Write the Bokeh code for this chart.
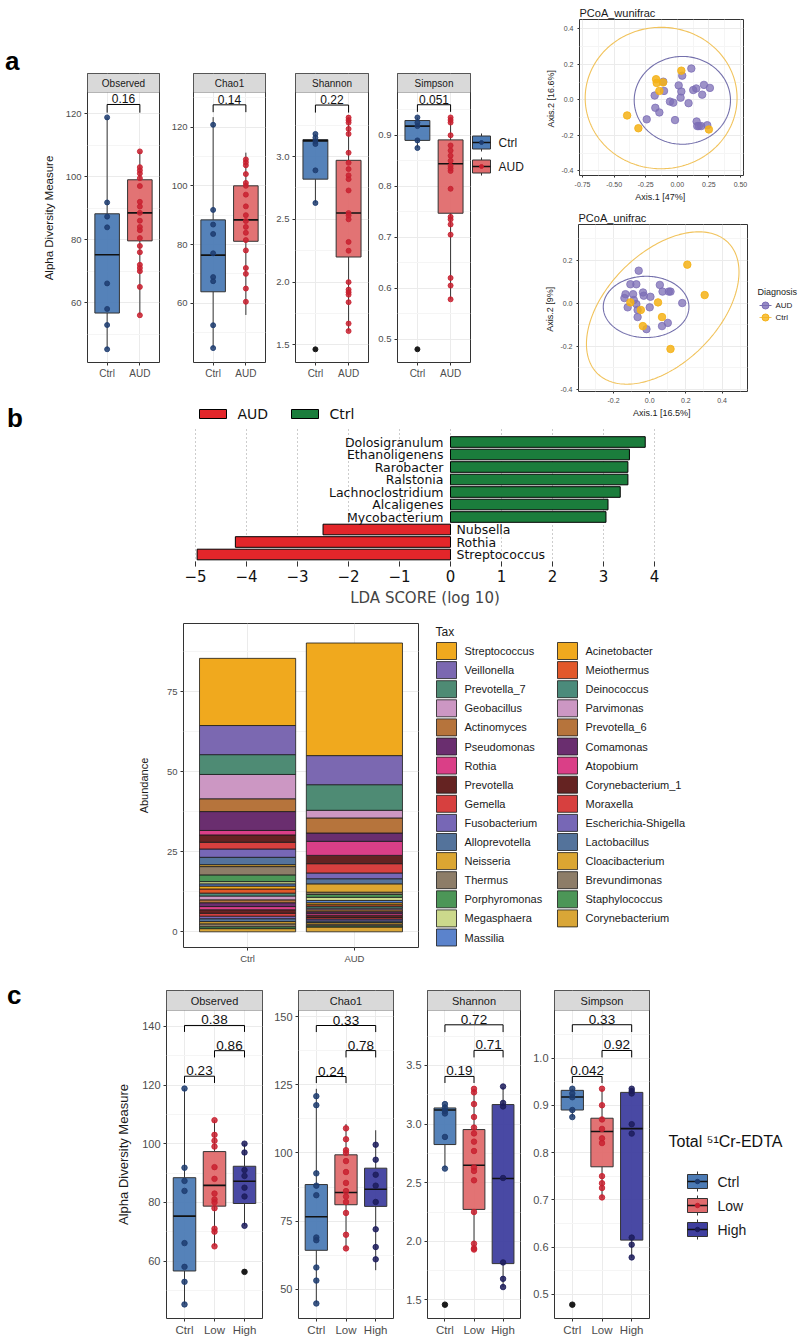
import numpy as np
from bokeh.plotting import figure
from bokeh.layouts import row, column
from bokeh.models import Range1d, FixedTicker, NumeralTickFormatter, BoxAnnotation, Label, ColumnDataSource, Div
from bokeh.core.properties import value
from bokeh.embed import file_html
from bokeh.resources import INLINE

FONT = "Liberation Sans"
MPL = "DejaVu Sans"

# ---------------- Panel a: alpha diversity, Ctrl vs AUD ----------------
A_GROUPS = ["Ctrl", "AUD"]
A_FILL = ["#4C7BB5", "#E06B6D"]
A_PTCOL = ["#1D3C70", "#C8202F"]

A_OBS_PTS = [[118.8, 91.8, 87.3, 83.9, 66.1, 58.0, 52.9, 45.2],
             [108, 103, 102, 101, 99.5, 97, 92, 90.5, 88.5, 86, 84, 83, 80.5, 78, 76, 72, 71, 70, 65, 56]]
A_OBS_Q1 = [56.7, 79.6]
A_OBS_MED = [75.2, 88.5]
A_OBS_Q3 = [88.2, 99.0]
A_OBS_LO = [45.2, 56.0]
A_OBS_HI = [118.8, 108.0]
A_OBS_OUT = [[], []]

A_CHAO_PTS = [[120.8, 91.8, 86.8, 83.6, 77, 68.9, 67.5, 52.5, 44.7],
              [109, 108, 107, 104, 101, 100, 97, 93, 90, 88, 86, 84, 81.5, 78, 72, 70, 65, 60.5]]
A_CHAO_Q1 = [63.9, 81.1]
A_CHAO_MED = [76.4, 88.4]
A_CHAO_Q3 = [88.4, 100.0]
A_CHAO_LO = [44.7, 56.0]
A_CHAO_HI = [123.4, 111.3]
A_CHAO_OUT = [[], []]

A_SHAN_PTS = [[3.18, 3.15, 3.12, 3.10, 2.89, 2.63],
              [3.31, 3.29, 3.27, 3.22, 3.18, 3.03, 2.95, 2.90, 2.85, 2.82, 2.73, 2.55, 2.53, 2.50,
               2.32, 2.25, 2.00, 1.94, 1.92, 1.90, 1.84, 1.67, 1.61]]
A_SHAN_Q1 = [2.82, 2.20]
A_SHAN_MED = [3.125, 2.55]
A_SHAN_Q3 = [3.135, 2.97]
A_SHAN_LO = [2.63, 1.61]
A_SHAN_HI = [3.18, 3.31]
A_SHAN_OUT = [[1.465], []]

A_SIMP_PTS = [[0.935, 0.925, 0.918, 0.89, 0.875],
              [0.935, 0.93, 0.925, 0.90, 0.88, 0.87, 0.86, 0.85, 0.84, 0.835, 0.83, 0.795, 0.74,
               0.735, 0.725, 0.705, 0.62, 0.605, 0.578]]
A_SIMP_Q1 = [0.890, 0.747]
A_SIMP_MED = [0.918, 0.844]
A_SIMP_Q3 = [0.929, 0.891]
A_SIMP_LO = [0.875, 0.578]
A_SIMP_HI = [0.935, 0.935]
A_SIMP_OUT = [[0.48], []]

A_PV_X0 = [1]
A_PV_X1 = [2]
A_OBS_PV = ["0.16"]; A_OBS_BR = [122.9]; A_OBS_TIP = [120.3]
A_CHAO_PV = ["0.14"]; A_CHAO_BR = [127.6]; A_CHAO_TIP = [125.1]
A_SHAN_PV = ["0.22"]; A_SHAN_BR = [3.41]; A_SHAN_TIP = [3.35]
A_SIMP_PV = ["0.051"]; A_SIMP_BR = [0.960]; A_SIMP_TIP = [0.946]

A_OBS_YLIM = [41.0, 126.7]; A_OBS_TICKS = [60, 80, 100, 120]; A_OBS_MINOR = [50, 70, 90, 110]
A_CHAO_YLIM = [39.8, 131.8]; A_CHAO_TICKS = [60, 80, 100, 120]; A_CHAO_MINOR = [50, 70, 90, 110, 130]
A_SHAN_YLIM = [1.36, 3.51]; A_SHAN_TICKS = [1.5, 2.0, 2.5, 3.0]; A_SHAN_MINOR = [1.75, 2.25, 2.75, 3.25]
A_SIMP_YLIM = [0.454, 0.984]; A_SIMP_TICKS = [0.5, 0.6, 0.7, 0.8, 0.9]; A_SIMP_MINOR = [0.55, 0.65, 0.75, 0.85, 0.95]

# ---------------- PCoA ----------------
WU_AUD_X = [0.111, 0.039, -0.111, 0.011, 0.032, 0.126, 0.150, 0.211, 0.258, 0.197, -0.179, -0.105, 0.026,
            -0.058, -0.032, 0.089, -0.174, -0.142, -0.242, -0.018, 0.153, 0.158, 0.189, 0.237, 0.171]
WU_AUD_Y = [0.176, 0.136, 0.102, 0.081, 0.047, 0.055, 0.064, 0.084, 0.067, 0.029, 0.024, 0.050, 0.012,
            -0.010, -0.016, -0.019, -0.045, -0.071, -0.110, -0.114, -0.122, -0.148, -0.148, -0.143, -0.148]
WU_CTRL_X = [0.032, -0.168, -0.163, -0.113, -0.142, -0.397, -0.308, 0.250]
WU_CTRL_Y = [0.164, 0.116, 0.095, 0.098, 0.050, -0.088, -0.160, -0.167]
WU_ELL_CX = [-0.128, 0.040]
WU_ELL_CY = [0.010, -0.003]
WU_ELL_A = [0.601, 0.381]
WU_ELL_B = [0.398, 0.247]
WU_ELL_ANG = [0.0, 0.0]

UF_AUD_X = [-0.061, -0.107, -0.074, 0.056, -0.134, -0.092, -0.037, -0.033, 0.004, 0.071, 0.115, 0.106,
            -0.140, -0.122, -0.074, -0.067, -0.067, 0.0, 0.18, -0.018, 0.068, 0.1, -0.088]
UF_AUD_Y = [0.151, 0.088, 0.088, 0.085, 0.042, 0.042, 0.05, 0.035, 0.030, 0.054, 0.054, 0.054,
            0.024, -0.019, -0.004, -0.031, -0.064, -0.019, 0.001, -0.12, -0.106, -0.091, 0.015]
UF_CTRL_X = [0.208, 0.304, -0.107, -0.049, 0.046, 0.068, -0.038, 0.115]
UF_CTRL_Y = [0.179, 0.038, 0.004, -0.031, 0.004, -0.064, -0.106, -0.212]
UF_ELL_CX = [0.072, -0.020]
UF_ELL_CY = [-0.022, -0.017]
UF_ELL_A = [0.476, 0.237]
UF_ELL_B = [0.276, 0.142]
UF_ELL_ANG = [34.6, 0.0]

PC_COL = ["#F5B216", "#7C6DB6"]      # Ctrl, AUD
PC_ELL_COL = ["#F1C35C", "#7470AC"]  # Ctrl, AUD
DIAG_LABELS = ["AUD", "Ctrl"]

# ---------------- Panel b: LEfSe ----------------
LDA_TAXA = ["Dolosigranulum", "Ethanoligenens", "Rarobacter", "Ralstonia", "Lachnoclostridium",
            "Alcaligenes", "Mycobacterium", "Nubsella", "Rothia", "Streptococcus"]
LDA_SCORE = [3.82, 3.51, 3.48, 3.48, 3.33, 3.09, 3.05, -2.50, -4.22, -4.97]
LDA_CLASS = ["Ctrl"] * 7 + ["AUD"] * 3
LDA_LEG = ["AUD", "Ctrl"]
LDA_COLORS = {"AUD": "#E3262A", "Ctrl": "#1B7D3C"}
LDA_TICKS = [-5, -4, -3, -2, -1, 0, 1, 2, 3, 4]

# ---------------- Stacked abundance ----------------
TAX = ["Streptococcus", "Veillonella", "Prevotella_7", "Geobacillus", "Actinomyces", "Pseudomonas",
       "Rothia", "Prevotella", "Gemella", "Fusobacterium", "Alloprevotella", "Neisseria", "Thermus",
       "Porphyromonas", "Megasphaera", "Massilia", "Acinetobacter", "Meiothermus", "Deinococcus",
       "Parvimonas", "Prevotella_6", "Comamonas", "Atopobium", "Corynebacterium_1", "Moraxella",
       "Escherichia-Shigella", "Lactobacillus", "Cloacibacterium", "Brevundimonas", "Staphylococcus",
       "Corynebacterium"]
TAX_COLORS = ["#F0A91E", "#7B68B1", "#4E8B74", "#CC97C3", "#B6743C", "#6A2E6F", "#DA3F87", "#652322",
              "#D7403F", "#7767B6", "#54739B", "#DBA632", "#8D7D68", "#4C9657", "#CCD98C", "#5B83CC",
              "#F0A91E", "#E2582A", "#4B8B7B", "#CC97C3", "#B6743C", "#6A2E6F", "#DA3F87", "#652322",
              "#D7403F", "#7767B6", "#54739B", "#DBA632", "#8D7D68", "#4C9657", "#D9A637"]
AB_CTRL = [21.0, 9.1, 6.2, 7.6, 4.0, 5.9, 1.4, 2.3, 2.1, 2.6, 2.3, 0.6, 2.6, 2.1, 0.7, 0.7,
           0.9, 1.3, 0.9, 1.2, 0.9, 1.2, 1.0, 1.1, 0.9, 0.8, 0.9, 0.7, 0.9, 0.6, 1.0]
AB_AUD = [35.2, 9.1, 8.0, 2.4, 4.7, 2.6, 4.4, 2.6, 2.9, 1.8, 1.6, 2.6, 0.7, 0.9, 1.0, 0.7,
          0.6, 0.5, 0.6, 0.5, 0.6, 0.5, 0.6, 0.7, 0.5, 0.6, 0.5, 0.5, 0.5, 0.4, 1.5]
AB_GROUPS = ["Ctrl", "AUD"]

# ---------------- Panel c: Ctrl / Low / High ----------------
C_GROUPS = ["Ctrl", "Low", "High"]
C_FILL = ["#4C7BB5", "#E06B6D", "#3F3F9F"]
C_PTCOL = ["#1D3C70", "#C8202F", "#1C1C5C"]

C_OBS_PTS = [[118.8, 91.8, 87.3, 83.9, 66.1, 58.0, 52.9, 45.2],
             [108, 103, 101, 99, 92, 88, 83, 81, 80, 78, 71, 70, 65],
             [100, 97, 91, 89, 85, 82, 72]]
C_OBS_Q1 = [56.6, 78.7, 79.6]; C_OBS_MED = [75.3, 85.8, 87.2]; C_OBS_Q3 = [88.4, 97.3, 92.3]
C_OBS_LO = [45.2, 65.0, 72.0]; C_OBS_HI = [118.8, 108.0, 100.0]
C_OBS_OUT = [[], [], [56.3]]

C_CHAO_PTS = [[120.8, 117.5, 92.5, 88, 84.5, 69, 68, 58, 53.2, 44.8],
              [109, 105, 101, 100, 97, 93, 89, 86, 84, 82, 78, 70, 65],
              [103, 97.5, 92, 88, 82, 72, 65.5, 61]]
C_CHAO_Q1 = [64.3, 81.0, 80.4]; C_CHAO_MED = [76.6, 85.5, 86.7]; C_CHAO_Q3 = [88.4, 99.3, 94.4]
C_CHAO_LO = [44.8, 64.7, 57.0]; C_CHAO_HI = [123.5, 110.6, 108.3]
C_CHAO_OUT = [[], [], []]

C_SHAN_PTS = [[3.17, 3.14, 3.11, 3.09, 2.89, 2.62],
              [3.30, 3.27, 3.17, 3.06, 2.97, 2.92, 2.85, 2.77, 2.63, 2.60, 2.52, 2.25, 1.98, 1.94, 1.93],
              [3.32, 3.18, 3.15, 2.54, 1.82, 1.68, 1.61]]
C_SHAN_Q1 = [2.825, 2.272, 1.81]; C_SHAN_MED = [3.12, 2.649, 2.536]; C_SHAN_Q3 = [3.137, 2.953, 3.166]
C_SHAN_LO = [2.62, 1.93, 1.61]; C_SHAN_HI = [3.17, 3.30, 3.316]
C_SHAN_OUT = [[1.46], [], []]

C_SIMP_PTS = [[0.935, 0.925, 0.917, 0.89, 0.875],
              [0.935, 0.90, 0.87, 0.85, 0.83, 0.82, 0.75, 0.735, 0.725, 0.705],
              [0.935, 0.93, 0.925, 0.86, 0.84, 0.62, 0.605, 0.578]]
C_SIMP_Q1 = [0.890, 0.7698, 0.6146]; C_SIMP_MED = [0.9176, 0.8445, 0.8506]; C_SIMP_Q3 = [0.9316, 0.8726, 0.9273]
C_SIMP_LO = [0.875, 0.7034, 0.577]; C_SIMP_HI = [0.935, 0.935, 0.935]
C_SIMP_OUT = [[0.478], [], []]

C_PV_X0 = [1, 2, 1]
C_PV_X1 = [3, 3, 2]
C_OBS_PV = ["0.38", "0.86", "0.23"]; C_OBS_BR = [140.3, 131.7, 123.0]; C_OBS_TIP = [138.1, 129.4, 120.7]
C_CHAO_PV = ["0.33", "0.78", "0.24"]; C_CHAO_BR = [146.7, 137.5, 128.0]; C_CHAO_TIP = [144.3, 135.0, 125.6]
C_SHAN_PV = ["0.72", "0.71", "0.19"]; C_SHAN_BR = [3.846, 3.628, 3.406]; C_SHAN_TIP = [3.784, 3.568, 3.35]
C_SIMP_PV = ["0.33", "0.92", "0.042"]; C_SIMP_BR = [1.0705, 1.016, 0.961]; C_SIMP_TIP = [1.055, 1.0013, 0.947]

C_OBS_YLIM = [40.4, 145.4]; C_OBS_TICKS = [60, 80, 100, 120, 140]; C_OBS_MINOR = [50, 70, 90, 110, 130]
C_CHAO_YLIM = [39.3, 152.2]; C_CHAO_TICKS = [50, 75, 100, 125, 150]; C_CHAO_MINOR = [62.5, 87.5, 112.5, 137.5]
C_SHAN_YLIM = [1.342, 3.968]; C_SHAN_TICKS = [1.5, 2.0, 2.5, 3.0, 3.5]; C_SHAN_MINOR = [1.75, 2.25, 2.75, 3.25, 3.75]
C_SIMP_YLIM = [0.4487, 1.1006]; C_SIMP_TICKS = [0.5, 0.6, 0.7, 0.8, 0.9, 1.0]; C_SIMP_MINOR = [0.55, 0.65, 0.75, 0.85, 0.95, 1.05]

GRID = "#ebebeb"
GRID_MINOR = "#f5f5f5"
BORDER = "#333333"
TICKCOL = "#4d4d4d"


def style_axis(ax, fs, tick_out=3):
    ax.axis_line_color = None
    ax.major_tick_in = 0
    ax.major_tick_out = tick_out
    ax.major_tick_line_color = BORDER
    ax.minor_tick_line_color = None
    ax.major_label_text_font = FONT
    ax.major_label_text_font_size = fs
    ax.major_label_text_color = TICKCOL
    ax.major_label_standoff = 2
    ax.axis_label_text_font = FONT
    ax.axis_label_text_font_style = "normal"
    ax.axis_label_text_color = "#1a1a1a"


def facet(frame_w, panel_h, strip_h, left, right, top, bottom, groups, ylim, ticks, minor, fmt,
          strip, q1, med, q3, lo, hi, pts, outl, fills, pcols, brx0, brx1, bry, brtip, brlab,
          tick_fs, strip_fs, pv_fs, xlab_fs, ylabel=None, ylabel_fs="12px", pt_size=5.0):
    n = len(groups)
    span = ylim[1] - ylim[0]
    strip_data = span * strip_h / panel_h
    p = figure(frame_width=frame_w, frame_height=panel_h + strip_h,
               x_range=Range1d(0.4, n + 0.6), y_range=Range1d(ylim[0], ylim[1] + strip_data),
               min_border_left=left, min_border_right=right, min_border_top=top, min_border_bottom=bottom,
               output_backend="svg", toolbar_location=None)
    p.outline_line_color = BORDER
    p.outline_line_width = 1
    p.xaxis.ticker = FixedTicker(ticks=list(range(1, n + 1)))
    p.xaxis.major_label_overrides = {i + 1: g for i, g in enumerate(groups)}
    p.yaxis.ticker = FixedTicker(ticks=ticks, minor_ticks=minor)
    p.yaxis.formatter = NumeralTickFormatter(format=fmt)
    style_axis(p.xaxis[0], xlab_fs)
    style_axis(p.yaxis[0], tick_fs)
    p.xgrid.grid_line_color = GRID
    p.ygrid.grid_line_color = GRID
    p.ygrid.minor_grid_line_color = GRID_MINOR
    if ylabel:
        p.yaxis.axis_label = ylabel
        p.yaxis.axis_label_text_font_size = ylabel_fs
        p.yaxis.axis_label_standoff = 8
    xs = np.arange(1, n + 1)
    bw = 0.75
    p.segment(x0=xs, y0=lo, x1=xs, y1=q1, line_color=BORDER, line_width=1)
    p.segment(x0=xs, y0=q3, x1=xs, y1=hi, line_color=BORDER, line_width=1)
    p.quad(left=xs - bw / 2, right=xs + bw / 2, bottom=q1, top=q3, fill_color=fills,
           fill_alpha=0.95, line_color=BORDER, line_width=1)
    p.segment(x0=xs - bw / 2, y0=med, x1=xs + bw / 2, y1=med, line_color="#111111", line_width=1.6)
    for i in range(n):
        if pts[i]:
            p.scatter(x=[i + 1] * len(pts[i]), y=pts[i], size=pt_size, fill_color=pcols[i],
                      line_color=pcols[i], fill_alpha=0.85, line_alpha=0.85)
        if outl[i]:
            p.scatter(x=[i + 1] * len(outl[i]), y=outl[i], size=pt_size, fill_color="#1a1a1a",
                      line_color="#1a1a1a")
    p.segment(x0=brx0, y0=bry, x1=brx1, y1=bry, line_color="black", line_width=1)
    p.segment(x0=brx0, y0=bry, x1=brx0, y1=brtip, line_color="black", line_width=1)
    p.segment(x0=brx1, y0=bry, x1=brx1, y1=brtip, line_color="black", line_width=1)
    p.text(x=[(a + b) / 2 for a, b in zip(brx0, brx1)], y=bry, text=brlab, text_align="center",
           text_baseline="bottom", y_offset=-1, text_font=value(FONT), text_font_size=pv_fs,
           text_color="#111111")
    p.add_layout(BoxAnnotation(bottom=ylim[1], fill_color="#d9d9d9", fill_alpha=1.0,
                               line_color=BORDER, line_width=1))
    p.add_layout(Label(x=(n + 1) / 2, y=ylim[1] + strip_data / 2, text=strip, text_align="center",
                       text_baseline="middle", text_font=FONT, text_font_size=strip_fs,
                       text_color="#1a1a1a"))
    return p


def blank(w, h, top=0, bottom=0):
    # plot whose data units are pixels measured from its own top-left corner;
    # its top/bottom borders equal those of its row neighbours so the frames line up
    fh = h - top - bottom
    p = figure(frame_width=w, frame_height=fh, x_range=Range1d(0, w), y_range=Range1d(top + fh, top),
               x_axis_type=None, y_axis_type=None, output_backend="svg", toolbar_location=None,
               min_border_left=0, min_border_right=0, min_border_top=top, min_border_bottom=bottom)
    p.outline_line_color = None
    return p


def letter(ch, w, h, pad_top, pad_left):
    return Div(text=(f'<div style="padding-top:{pad_top}px;padding-left:{pad_left}px;'
                     f'font-family:\'Liberation Sans\',Arial,sans-serif;font-weight:bold;'
                     f'font-size:26px;line-height:26px;color:#000;">{ch}</div>'),
               width=w, height=h, margin=0)


def box_key(p, xc, yc, w, hbox, hwh, fill, pcol, size):
    p.segment(x0=[xc, xc], y0=[yc - hwh, yc + hbox / 2], x1=[xc, xc], y1=[yc - hbox / 2, yc + hwh],
              line_color=BORDER, line_width=1)
    p.quad(left=[xc - w / 2], right=[xc + w / 2], top=[yc - hbox / 2], bottom=[yc + hbox / 2],
           fill_color=fill, line_color=BORDER, line_width=1)
    p.segment(x0=[xc - w / 2], y0=[yc], x1=[xc + w / 2], y1=[yc], line_color="#111111", line_width=1.4)
    p.scatter(x=[xc], y=[yc], size=size, fill_color=pcol, line_color=pcol)


# ================= Row A =================
A_TOP, A_BOT, A_PANEL, A_STRIP = 73, 23, 270, 19
div_a = letter("a", 38, A_TOP + A_PANEL + A_STRIP + A_BOT, 48, 5)

A_KW = dict(panel_h=A_PANEL, strip_h=A_STRIP, top=A_TOP, bottom=A_BOT, groups=A_GROUPS, fills=A_FILL,
            pcols=A_PTCOL, brx0=A_PV_X0, brx1=A_PV_X1, tick_fs="9.5px", strip_fs="10px", pv_fs="12px",
            xlab_fs="10px")
obs_a = facet(72, left=49, right=4, ylim=A_OBS_YLIM, ticks=A_OBS_TICKS, minor=A_OBS_MINOR, fmt="0",
              strip="Observed", q1=A_OBS_Q1, med=A_OBS_MED, q3=A_OBS_Q3, lo=A_OBS_LO, hi=A_OBS_HI,
              pts=A_OBS_PTS, outl=A_OBS_OUT, bry=A_OBS_BR, brtip=A_OBS_TIP, brlab=A_OBS_PV,
              ylabel="Alpha Diversity Measure", ylabel_fs="11.5px", **A_KW)
chao_a = facet(72, left=30, right=2, ylim=A_CHAO_YLIM, ticks=A_CHAO_TICKS, minor=A_CHAO_MINOR, fmt="0",
               strip="Chao1", q1=A_CHAO_Q1, med=A_CHAO_MED, q3=A_CHAO_Q3, lo=A_CHAO_LO, hi=A_CHAO_HI,
               pts=A_CHAO_PTS, outl=A_CHAO_OUT, bry=A_CHAO_BR, brtip=A_CHAO_TIP, brlab=A_CHAO_PV, **A_KW)
shan_a = facet(73, left=28, right=2, ylim=A_SHAN_YLIM, ticks=A_SHAN_TICKS, minor=A_SHAN_MINOR, fmt="0.0",
               strip="Shannon", q1=A_SHAN_Q1, med=A_SHAN_MED, q3=A_SHAN_Q3, lo=A_SHAN_LO, hi=A_SHAN_HI,
               pts=A_SHAN_PTS, outl=A_SHAN_OUT, bry=A_SHAN_BR, brtip=A_SHAN_TIP, brlab=A_SHAN_PV, **A_KW)
simp_a = facet(73, left=27, right=1, ylim=A_SIMP_YLIM, ticks=A_SIMP_TICKS, minor=A_SIMP_MINOR, fmt="0.0",
               strip="Simpson", q1=A_SIMP_Q1, med=A_SIMP_MED, q3=A_SIMP_Q3, lo=A_SIMP_LO, hi=A_SIMP_HI,
               pts=A_SIMP_PTS, outl=A_SIMP_OUT, bry=A_SIMP_BR, brtip=A_SIMP_TIP, brlab=A_SIMP_PV, **A_KW)

leg_a = blank(59, A_TOP + A_PANEL + A_STRIP + A_BOT, A_TOP, A_BOT)
for i, g in enumerate(A_GROUPS):
    box_key(leg_a, 10, 142 + 24 * i, 18, 13, 9, A_FILL[i], A_PTCOL[i], 4)
leg_a.text(x=[27] * len(A_GROUPS), y=[142 + 24 * i for i in range(len(A_GROUPS))], text=A_GROUPS,
           text_font=value(FONT), text_font_size="12px", text_baseline="middle", text_color="#1a1a1a")

# LDA legend strip with panel label b
div_b = letter("b", 38, 43, 20, 7)
leg_b = blank(492, 43)
leg_b.quad(left=[161 + 92 * i for i in range(len(LDA_LEG))], right=[188 + 92 * i for i in range(len(LDA_LEG))],
           top=[24] * len(LDA_LEG), bottom=[33] * len(LDA_LEG),
           fill_color=[LDA_COLORS[c] for c in LDA_LEG], line_color="black", line_width=1)
leg_b.text(x=[199 + 92 * i for i in range(len(LDA_LEG))], y=[28.5] * len(LDA_LEG), text=LDA_LEG,
           text_font=value(MPL), text_font_size="14px", text_baseline="middle", text_color="#111111")


def pcoa(frame_w, frame_h, left, right, top, bottom, xr, yr, xt, xmin, xfmt, yt, ymin, title, xlab, ylab,
         ax, ay, cx, cy, ex, ey, ea, eb, eang):
    p = figure(frame_width=frame_w, frame_height=frame_h, x_range=Range1d(*xr), y_range=Range1d(*yr),
               min_border_left=left, min_border_right=right, min_border_top=top, min_border_bottom=bottom,
               output_backend="svg", toolbar_location=None, title=title)
    p.title.text_font = FONT
    p.title.text_font_size = "11px"
    p.title.text_font_style = "normal"
    p.title.text_color = "#1a1a1a"
    p.title.standoff = 1
    p.outline_line_color = BORDER
    p.xaxis.ticker = FixedTicker(ticks=xt, minor_ticks=xmin)
    p.yaxis.ticker = FixedTicker(ticks=yt, minor_ticks=ymin)
    p.xaxis.formatter = NumeralTickFormatter(format=xfmt)
    p.yaxis.formatter = NumeralTickFormatter(format="0.0")
    for a in (p.xaxis[0], p.yaxis[0]):
        style_axis(a, "7px", tick_out=2)
        a.axis_label_text_font_size = "9px"
        a.axis_label_standoff = 2
    p.xaxis.axis_label = xlab
    p.yaxis.axis_label = ylab
    p.grid.grid_line_color = GRID
    p.grid.minor_grid_line_color = GRID_MINOR
    t = np.linspace(0, 2 * np.pi, 240)
    for k in range(len(ex)):
        th = np.deg2rad(eang[k])
        xx = ex[k] + ea[k] * np.cos(t) * np.cos(th) - eb[k] * np.sin(t) * np.sin(th)
        yy = ey[k] + ea[k] * np.cos(t) * np.sin(th) + eb[k] * np.sin(t) * np.cos(th)
        p.line(xx, yy, line_color=PC_ELL_COL[k], line_width=1.1)
    p.scatter(x=ax, y=ay, size=7.5, fill_color=PC_COL[1], line_color=PC_COL[1], fill_alpha=0.75, line_alpha=0.75)
    p.scatter(x=cx, y=cy, size=7.5, fill_color=PC_COL[0], line_color=PC_COL[0], fill_alpha=0.85, line_alpha=0.85)
    return p


wu = pcoa(164, 156, 49, 57, 19, 30, (-0.774, 0.524), (-0.426, 0.452),
          [-0.75, -0.5, -0.25, 0.0, 0.25, 0.5], [-0.625, -0.375, -0.125, 0.125, 0.375], "0.00",
          [-0.4, -0.2, 0.0, 0.2, 0.4], [-0.3, -0.1, 0.1, 0.3], "PCoA_wunifrac",
          "Axis.1  [47%]", "Axis.2  [16.6%]", WU_AUD_X, WU_AUD_Y, WU_CTRL_X, WU_CTRL_Y,
          WU_ELL_CX, WU_ELL_CY, WU_ELL_A, WU_ELL_B, WU_ELL_ANG)
UF_TOP, UF_FRAME, UF_BOT = 19, 167, 37
uf = pcoa(169, UF_FRAME, 48, 2, UF_TOP, UF_BOT, (-0.394, 0.541), (-0.409, 0.365),
          [-0.2, 0.0, 0.2, 0.4], [-0.3, -0.1, 0.1, 0.3, 0.5], "0.0",
          [-0.4, -0.2, 0.0, 0.2], [-0.3, -0.1, 0.1, 0.3], "PCoA_unifrac",
          "Axis.1  [16.5%]", "Axis.2  [9%]", UF_AUD_X, UF_AUD_Y, UF_CTRL_X, UF_CTRL_Y,
          UF_ELL_CX, UF_ELL_CY, UF_ELL_A, UF_ELL_B, UF_ELL_ANG)

leg_d = blank(51, UF_TOP + UF_FRAME + UF_BOT, UF_TOP, UF_BOT)
leg_d.text(x=[8], y=[86], text=["Diagnosis"], text_font=value(FONT), text_font_size="9px",
           text_baseline="middle", text_color="#1a1a1a")
dcols = [PC_COL[1], PC_COL[0]]
dys = [100 + 12 * i for i in range(len(DIAG_LABELS))]
leg_d.segment(x0=[10] * 2, y0=dys, x1=[22] * 2, y1=dys, line_color=[PC_ELL_COL[1], PC_ELL_COL[0]], line_width=1)
leg_d.scatter(x=[16] * 2, y=dys, size=7, fill_color=dcols, line_color=dcols, fill_alpha=0.8)
leg_d.text(x=[26] * 2, y=dys, text=DIAG_LABELS, text_font=value(FONT), text_font_size="8px",
           text_baseline="middle", text_color="#1a1a1a")

row_a = row(column(row(div_a, obs_a, chao_a, shan_a, simp_a, leg_a), row(div_b, leg_b)),
            column(wu, row(uf, leg_d)))

# ================= Row B: LDA =================
n_l = len(LDA_TAXA)
lda_y = [n_l - 1 - i for i in range(n_l)]
lda = figure(frame_width=469, frame_height=138, x_range=Range1d(-5.1, 4.1), y_range=Range1d(-0.96, n_l + 0.08),
             min_border_left=190, min_border_right=141, min_border_top=0, min_border_bottom=40,
             y_axis_location=None, output_backend="svg", toolbar_location=None)
lda.outline_line_color = None
lda.xaxis.ticker = FixedTicker(ticks=LDA_TICKS)
lda.xaxis.major_label_overrides = {t: str(t).replace("-", "\u2212") for t in LDA_TICKS}
ax = lda.xaxis[0]
ax.axis_line_color = None
ax.major_tick_in = 5
ax.major_tick_out = 0
ax.major_tick_line_color = "#333333"
ax.minor_tick_line_color = None
ax.major_label_text_font = MPL
ax.major_label_text_font_size = "15px"
ax.major_label_text_color = "#111111"
ax.major_label_standoff = 3
ax.axis_label = "LDA SCORE (log 10)"
ax.axis_label_text_font = MPL
ax.axis_label_text_font_size = "15px"
ax.axis_label_text_font_style = "normal"
ax.axis_label_standoff = 4
lda.xgrid.grid_line_color = "#9a9a9a"
lda.xgrid.grid_line_dash = "1 3"
lda.ygrid.grid_line_color = None
lda_src = ColumnDataSource(dict(y=lda_y, score=LDA_SCORE, taxa=LDA_TAXA,
                                color=[LDA_COLORS[c] for c in LDA_CLASS]))
lda.hbar(y="y", left=0, right="score", height=0.85, fill_color="color", line_color="black",
         line_width=1, source=lda_src)
pos = [i for i in range(n_l) if LDA_SCORE[i] > 0]
neg = [i for i in range(n_l) if LDA_SCORE[i] < 0]
lda.text(x=[0] * len(pos), y=[lda_y[i] for i in pos], text=[LDA_TAXA[i] for i in pos], text_align="right",
         text_baseline="middle", x_offset=-7, text_font=value(MPL), text_font_size="12.5px", text_color="#111111")
lda.text(x=[0] * len(neg), y=[lda_y[i] for i in neg], text=[LDA_TAXA[i] for i in neg], text_align="left",
         text_baseline="middle", x_offset=6, text_font=value(MPL), text_font_size="12.5px", text_color="#111111")

# ================= Row C: stacked abundance =================
SB_TOP, SB_FRAME, SB_BOT = 14, 324, 18
sb = figure(frame_width=235, frame_height=SB_FRAME, x_range=Range1d(0.4, 2.6), y_range=Range1d(-4.9, 96.4),
            min_border_left=183, min_border_right=2, min_border_top=SB_TOP, min_border_bottom=SB_BOT,
            output_backend="svg", toolbar_location=None)
sb.outline_line_color = BORDER
sb.xaxis.ticker = FixedTicker(ticks=[1, 2])
sb.xaxis.major_label_overrides = {1: AB_GROUPS[0], 2: AB_GROUPS[1]}
sb.yaxis.ticker = FixedTicker(ticks=[0, 25, 50, 75], minor_ticks=[12.5, 37.5, 62.5, 87.5])
style_axis(sb.xaxis[0], "9.5px")
style_axis(sb.yaxis[0], "9.5px")
sb.yaxis.axis_label = "Abundance"
sb.yaxis.axis_label_text_font_size = "11px"
sb.yaxis.axis_label_standoff = 14
sb.grid.grid_line_color = GRID
sb.ygrid.minor_grid_line_color = GRID_MINOR
sb_data = {"x": [1, 2]}
for i, t in enumerate(TAX):
    sb_data[t] = [AB_CTRL[i], AB_AUD[i]]
sb.vbar_stack(stackers=TAX[::-1], x="x", width=0.9, fill_color=TAX_COLORS[::-1], line_color="#1a1a1a",
              line_width=0.8, source=ColumnDataSource(sb_data))

leg_t = blank(380, SB_TOP + SB_FRAME + SB_BOT, SB_TOP, SB_BOT)
leg_t.text(x=[15], y=[22], text=["Tax"], text_font=value(FONT), text_font_size="12px",
           text_baseline="middle", text_color="#1a1a1a")
per_col = 16
kx = [16 + 121 * (i // per_col) for i in range(len(TAX))]
ky = [41.5 + 19.1 * (i % per_col) for i in range(len(TAX))]
leg_t.quad(left=kx, right=[k + 20 for k in kx], top=[k - 8.5 for k in ky], bottom=[k + 8.5 for k in ky],
           fill_color=TAX_COLORS, line_color="#1a1a1a", line_width=0.8)
leg_t.text(x=[k + 28 for k in kx], y=ky, text=TAX, text_font=value(FONT), text_font_size="11px",
           text_baseline="middle", text_color="#1a1a1a")

row_c = row(sb, leg_t)

# ================= Row D: panel c =================
C_TOP, C_BOT, C_PANEL, C_STRIP = 24, 20, 308, 20
div_c = letter("c", 38, C_TOP + C_PANEL + C_STRIP + C_BOT, 16, 7)
C_KW = dict(panel_h=C_PANEL, strip_h=C_STRIP, top=C_TOP, bottom=C_BOT, groups=C_GROUPS, fills=C_FILL,
            pcols=C_PTCOL, brx0=C_PV_X0, brx1=C_PV_X1, tick_fs="11px", strip_fs="11px", pv_fs="13.5px",
            xlab_fs="11.5px", pt_size=5.5)
obs_c = facet(96, left=128, right=2, ylim=C_OBS_YLIM, ticks=C_OBS_TICKS, minor=C_OBS_MINOR, fmt="0",
              strip="Observed", q1=C_OBS_Q1, med=C_OBS_MED, q3=C_OBS_Q3, lo=C_OBS_LO, hi=C_OBS_HI,
              pts=C_OBS_PTS, outl=C_OBS_OUT, bry=C_OBS_BR, brtip=C_OBS_TIP, brlab=C_OBS_PV,
              ylabel="Alpha Diversity Measure", ylabel_fs="13px", **C_KW)
chao_c = facet(95, left=34, right=2, ylim=C_CHAO_YLIM, ticks=C_CHAO_TICKS, minor=C_CHAO_MINOR, fmt="0",
               strip="Chao1", q1=C_CHAO_Q1, med=C_CHAO_MED, q3=C_CHAO_Q3, lo=C_CHAO_LO, hi=C_CHAO_HI,
               pts=C_CHAO_PTS, outl=C_CHAO_OUT, bry=C_CHAO_BR, brtip=C_CHAO_TIP, brlab=C_CHAO_PV, **C_KW)
shan_c = facet(93, left=32, right=2, ylim=C_SHAN_YLIM, ticks=C_SHAN_TICKS, minor=C_SHAN_MINOR, fmt="0.0",
               strip="Shannon", q1=C_SHAN_Q1, med=C_SHAN_MED, q3=C_SHAN_Q3, lo=C_SHAN_LO, hi=C_SHAN_HI,
               pts=C_SHAN_PTS, outl=C_SHAN_OUT, bry=C_SHAN_BR, brtip=C_SHAN_TIP, brlab=C_SHAN_PV, **C_KW)
simp_c = facet(95, left=32, right=1, ylim=C_SIMP_YLIM, ticks=C_SIMP_TICKS, minor=C_SIMP_MINOR, fmt="0.0",
               strip="Simpson", q1=C_SIMP_Q1, med=C_SIMP_MED, q3=C_SIMP_Q3, lo=C_SIMP_LO, hi=C_SIMP_HI,
               pts=C_SIMP_PTS, outl=C_SIMP_OUT, bry=C_SIMP_BR, brtip=C_SIMP_TIP, brlab=C_SIMP_PV, **C_KW)

leg_c = blank(150, C_TOP + C_PANEL + C_STRIP + C_BOT, C_TOP, C_BOT)
leg_c.text(x=[18], y=[175], text=["Total \u2075\u00b9Cr-EDTA"], text_font=value(FONT), text_font_size="16px",
           text_baseline="middle", text_color="#111111")
for i, g in enumerate(C_GROUPS):
    box_key(leg_c, 47, 215 + 24 * i, 20, 14, 10, C_FILL[i], C_PTCOL[i], 4.5)
leg_c.text(x=[67] * 3, y=[215 + 24 * i for i in range(len(C_GROUPS))], text=C_GROUPS, text_font=value(FONT),
           text_font_size="14px", text_baseline="middle", text_color="#1a1a1a")

row_d = row(div_c, obs_c, chao_c, shan_c, simp_c, leg_c)

layout = column(row_a, lda, row_c, row_d)
open("out.html", "w").write(file_html(layout, INLINE))
